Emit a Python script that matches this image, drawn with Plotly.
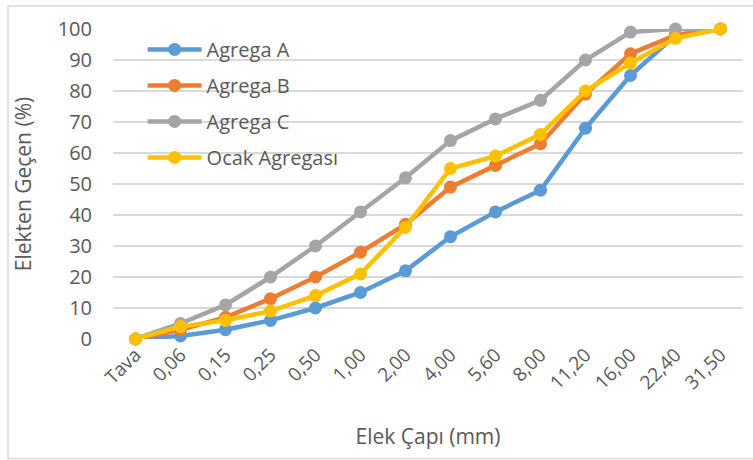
import plotly.graph_objects as go

categories = ["Tava", "0,06", "0,15", "0,25", "0,50", "1,00", "2,00", "4,00",
              "5,60", "8,00", "11,20", "16,00", "22,40", "31,50"]
agrega_a = [0, 1, 3, 6, 10, 15, 22, 33, 41, 48, 68, 85, 98, 100]
agrega_b = [0, 3, 7, 13, 20, 28, 37, 49, 56, 63, 79, 92, 98, 100]
agrega_c = [0, 5, 11, 20, 30, 41, 52, 64, 71, 77, 90, 99, 100, 100]
ocak = [0, 4, 6, 9, 14, 21, 36, 55, 59, 66, 80, 89, 97, 100]

series = [
    ("Agrega A", agrega_a, "#5B9BD5"),
    ("Agrega B", agrega_b, "#ED7D31"),
    ("Agrega C", agrega_c, "#A5A5A5"),
    ("Ocak Agregası", ocak, "#FFC000"),
]

FONT = "Open Sans, Liberation Sans, sans-serif"
TXT = "#595959"
L, R, T, B = 113, 10, 29, 121
PW, PH = 753 - L - R, 460 - T - B

fig = go.Figure()
for i, (name, vals, col) in enumerate(series):
    fig.add_trace(go.Scatter(
        x=categories, y=vals, name=name, mode="lines+markers",
        line=dict(color=col, width=4.5),
        marker=dict(color=col, size=13),
        legendgroup=f"g{i}", cliponaxis=False,
    ))

fig.update_layout(
    width=753, height=460,
    margin=dict(l=L, r=R, t=T, b=B, autoexpand=False),
    paper_bgcolor="white", plot_bgcolor="white",
    font=dict(family=FONT, color=TXT, size=18),
    legend=dict(x=0.047, y=0.997, xanchor="left", yanchor="top",
                bgcolor="rgba(0,0,0,0)", font=dict(size=20, color=TXT),
                tracegroupgap=7, itemwidth=54),
    xaxis=dict(type="category", range=[-0.5, len(categories) - 0.5],
               tickangle=-45, showgrid=False, automargin=False,
               showline=False, ticks="", tickfont=dict(size=19, color=TXT),
               title=dict(text="Elek Çapı (mm)", font=dict(size=21, color=TXT),
                          standoff=35)),
    yaxis=dict(range=[0, 100], dtick=10, showgrid=True, gridcolor="#D9D9D9",
               gridwidth=1.5, zeroline=False, showline=False, ticks="",
               automargin=False,
               ticklabelstandoff=20, tickfont=dict(size=20, color=TXT),
               title=dict(text="Elekten Geçen (%)", font=dict(size=21, color=TXT),
                          standoff=20)),
)
fig.add_shape(type="rect", xref="paper", yref="paper",
              x0=-(L - 8) / PW, x1=1 + (R + 5) / PW,
              y0=-(B - 1.5) / PH, y1=1 + (T - 6) / PH,
              line=dict(color="#D9D9D9", width=1.5), layer="below")

fig.write_html("out.html", config={"displayModeBar": False},
               post_script="document.body.style.margin='0';")
